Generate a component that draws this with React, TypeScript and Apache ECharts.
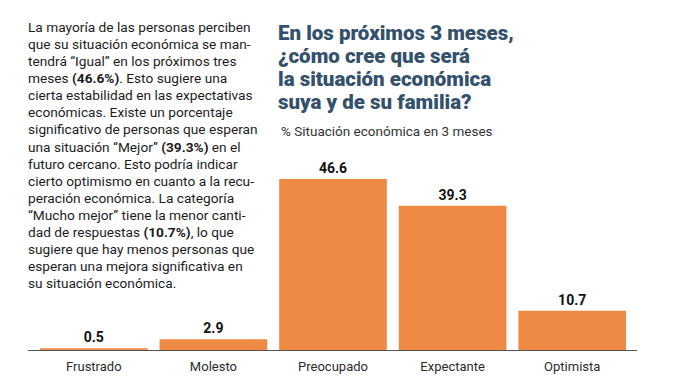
import React, { useEffect, useRef } from "react";
import * as echarts from "echarts";

const categories = ["Frustrado", "Molesto", "Preocupado", "Expectante", "Optimista"];
const values = [0.5, 2.9, 46.6, 39.3, 10.7];

const titleLines = [
  "En los próximos 3 meses,",
  "¿cómo cree que será",
  "la situación económica",
  "suya y de su familia?",
];
const subtitle = "% Situación económica en 3 meses";

// paragraph lines: segments [text, bold]
const paragraph: [string, boolean][][] = [
  [["La mayoría de las personas perciben", false]],
  [["que su situación económica se man-", false]],
  [["tendrá “Igual” en los próximos tres", false]],
  [["meses ", false], ["(46.6%)", true], [". Esto sugiere una", false]],
  [["cierta estabilidad en las expectativas", false]],
  [["económicas. Existe un porcentaje", false]],
  [["significativo de personas que esperan", false]],
  [["una situación “Mejor” ", false], ["(39.3%)", true], [" en el", false]],
  [["futuro cercano. Esto podría indicar", false]],
  [["cierto optimismo en cuanto a la recu-", false]],
  [["peración económica. La categoría", false]],
  [["“Mucho mejor” tiene la menor canti-", false]],
  [["dad de respuestas ", false], ["(10.7%)", true], [", lo que", false]],
  [["sugiere que hay menos personas que", false]],
  [["esperan una mejora significativa en", false]],
  [["su situación económica.", false]],
];

export default function App() {
  const ref = useRef<HTMLDivElement>(null);
  useEffect(() => {
    document.body.style.margin = "0";
    const chart = echarts.init(ref.current!, undefined, { renderer: "svg" });
    const paraText = paragraph
      .map((line) =>
        line.map(([t, b]) => `{${b ? "b" : "n"}|${t}}`).join("")
      )
      .join("\n");
    const font = "Roboto, 'Noto Sans', sans-serif";
    chart.setOption({
      animation: false,
      grid: { left: 34, right: 67, bottom: 40, top: 166.5 },
      xAxis: {
        type: "category",
        data: categories,
        axisLine: { show: false },
        axisTick: { show: false },
        axisLabel: { color: "#2b2b2b", fontSize: 13, fontFamily: font, margin: 10 },
      },
      yAxis: {
        type: "value",
        min: 0,
        max: 50,
        show: false,
        splitLine: { show: false },
      },
      series: [
        {
          type: "bar",
          data: values,
          barCategoryGap: "10%",
          itemStyle: { color: "#EE8A44" },
          label: {
            show: true,
            position: "top",
            distance: 4,
            color: "#111",
            fontSize: 14,
            fontWeight: "bold",
            fontFamily: font,
            formatter: (p: any) => p.value.toFixed(1),
          },
        },
      ],
      graphic: [
        {
          type: "line",
          shape: { x1: 28, y1: 350.5, x2: 637, y2: 350.5 },
          style: { stroke: "#555", lineWidth: 1 },
        },
        {
          type: "text",
          x: 278,
          y: 21.5,
          style: {
            text: titleLines.join("\n"),
            fill: "#34516C",
            font: `900 20.5px ${font}`,
            lineHeight: 23,
          },
        },
        {
          type: "text",
          x: 281,
          y: 124,
          style: {
            text: subtitle,
            fill: "#333",
            font: `13.5px ${font}`,
          },
        },
        {
          type: "text",
          x: 28,
          y: 18.5,
          style: {
            text: paraText,
            rich: {
              n: { fontSize: 13.7, fontFamily: font, fill: "#1c1c1c", lineHeight: 17.07 },
              b: { fontSize: 13.7, fontFamily: font, fontWeight: "bold", fill: "#1c1c1c", lineHeight: 17.07 },
            },
          },
        },
      ],
    });
    return () => chart.dispose();
  }, []);
  return <div ref={ref} style={{ width: 699, height: 390 }} />;
}
